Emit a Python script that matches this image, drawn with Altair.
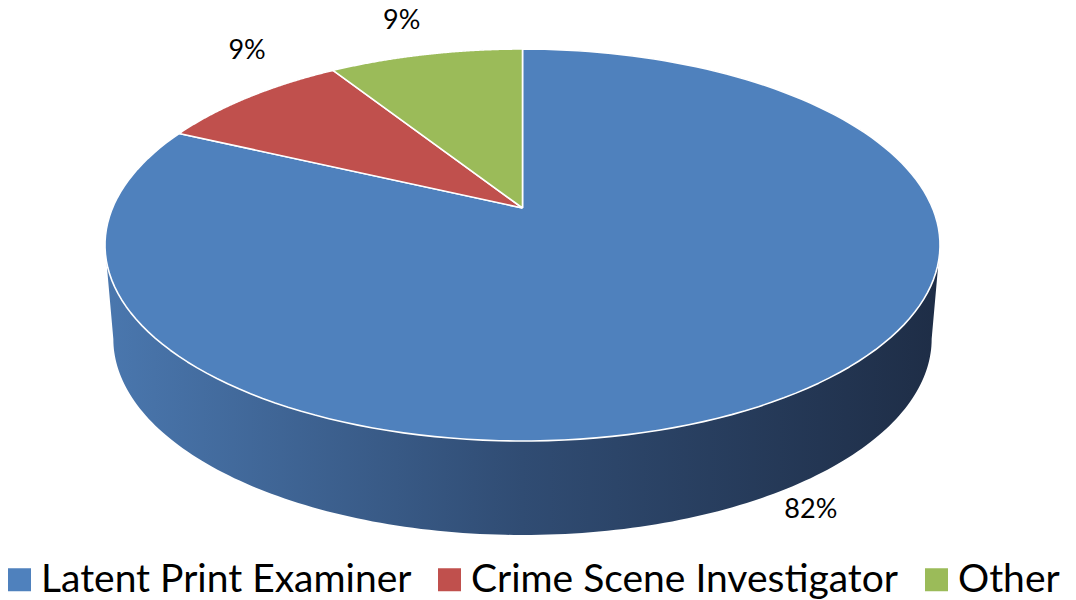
import altair as alt
import pandas as pd

# ---- data ----
categories = ["Latent Print Examiner", "Crime Scene Investigator", "Other"]
values = [82, 9, 9]
colors = ["#4f81bd", "#c0504d", "#9bbb59"]

# ---- layout / geometry (pixels) ----
W, H = 1076, 600
CX, CY = 522.5, 208.0      # pie apex on screen
A, B, K = 410.0, 189.0, 0.1888   # perspective ellipse parameters
BOT_SCALE = 0.98            # bottom rim horizontal scale
DEPTH = 94.0                # thickness of the pie
N = 160                     # points per slice arc
M = 160                     # points per rim arc

total = float(sum(values))
fracs = [v / total for v in values]
starts = [sum(fracs[:i]) for i in range(len(fracs))]

slices = pd.DataFrame({"cat": categories, "value": values, "frac": fracs, "start": starts})
steps = pd.DataFrame({"k": list(range(-1, N + 2))})
top = slices.merge(steps, how="cross")
rim = pd.DataFrame({"s": list(range(0, 2 * M + 2))})

xs = alt.X("X:Q", scale=alt.Scale(domain=[0, W], nice=False, zero=False), axis=None)
ys = alt.Y("Y:Q", scale=alt.Scale(domain=[0, H], nice=False, zero=False, reverse=True), axis=None)

# ---- side (rim) ----
side_grad = alt.Gradient(
    gradient="linear",
    stops=[
        alt.GradientStop(color="#4a77ae", offset=0),
        alt.GradientStop(color="#304c73", offset=0.5),
        alt.GradientStop(color="#1e2d46", offset=1),
    ],
    x1=0, x2=1, y1=0, y2=0,
)
side = (
    alt.Chart(rim)
    .transform_calculate(
        alpha=f"asin({K})",
        isTop=f"datum.s <= {M}",
    )
    .transform_calculate(
        phi=f"datum.isTop ? (PI + datum.alpha) - (PI + 2*datum.alpha) * datum.s / {M}"
            f" : (2*PI - datum.alpha) - (PI - 2*datum.alpha) * (datum.s - {M} - 1) / {M}",
    )
    .transform_calculate(
        w=f"1 + {K} * sin(datum.phi)",
    )
    .transform_calculate(
        X=f"{CX} + (datum.isTop ? {A} : {A * BOT_SCALE}) * cos(datum.phi) / datum.w",
        Y=f"{CY} - {B} * sin(datum.phi) / datum.w + (datum.isTop ? 0 : {DEPTH})",
    )
    .mark_line(filled=True, fill=side_grad, strokeWidth=0, interpolate="linear")
    .encode(x=xs, y=ys, order=alt.Order("s:Q"))
)

# ---- top face slices ----
top_face = (
    alt.Chart(top)
    .transform_calculate(
        t=f"datum.start + datum.frac * clamp(datum.k, 0, {N}) / {N}",
        apex=f"datum.k < 0 || datum.k > {N}",
    )
    .transform_calculate(phi="PI/2 - 2*PI*datum.t")
    .transform_calculate(w=f"1 + {K} * sin(datum.phi)")
    .transform_calculate(
        X=f"datum.apex ? {CX} : {CX} + {A} * cos(datum.phi) / datum.w",
        Y=f"datum.apex ? {CY} : {CY} - {B} * sin(datum.phi) / datum.w",
    )
    .mark_line(filled=True, stroke="white", strokeWidth=1.6, strokeJoin="round")
    .encode(
        x=xs,
        y=ys,
        order=alt.Order("k:Q"),
        color=alt.Color(
            "cat:N",
            scale=alt.Scale(domain=categories, range=colors),
            legend=alt.Legend(
                orient="none",
                legendX=0,
                legendY=560,
                direction="horizontal",
                title=None,
                symbolType="square",
                symbolSize=529,
                symbolStrokeWidth=0,
                symbolOpacity=1,
                labelFont="Lato",
                labelFontSize=39,
                labelColor="black",
                labelOffset=2,
                columnPadding=18,
                labelLimit=600,
                padding=0,
            ),
        ),
    )
)

# ---- value labels ----
def label_layer(cat, dx, dy):
    return (
        alt.Chart(slices)
        .transform_filter(alt.datum.cat == cat)
        .transform_calculate(mid="datum.start + datum.frac / 2")
        .transform_calculate(phi="PI/2 - 2*PI*datum.mid")
        .transform_calculate(w=f"1 + {K} * sin(datum.phi)")
        .transform_calculate(
            X=f"{CX} + {A} * cos(datum.phi) / datum.w",
            Y=f"{CY} - {B} * sin(datum.phi) / datum.w",
            txt="format(datum.frac, '.0%')",
        )
        .mark_text(font="Lato", fontSize=27, color="black", dx=dx, dy=dy,
                   align="center", baseline="middle")
        .encode(x=xs, y=ys, text="txt:N")
    )

labels = [
    label_layer(categories[0], 27, 112),
    label_layer(categories[1], -2, -46),
    label_layer(categories[2], -24, -33),
]

chart = (
    alt.layer(side, top_face, *labels)
    .properties(width=W, height=H, autosize=alt.AutoSizeParams(type="none"), padding=0,
                background="white")
    .configure_view(stroke=None)
)

chart.save("out.html", embed_options={"renderer": "svg", "actions": False})
